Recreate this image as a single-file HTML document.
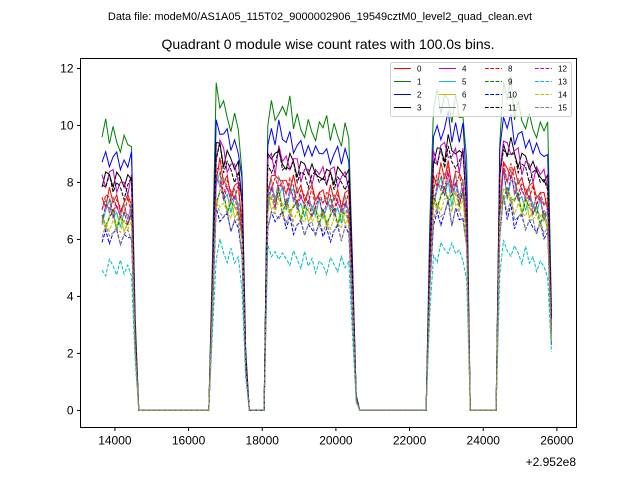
<!DOCTYPE html>
<html><head><meta charset="utf-8"><style>
body{margin:0;background:#fff;}
svg{display:block;font-family:"Liberation Sans","DejaVu Sans",sans-serif;}
</style></head><body>
<svg id="chart" width="640" height="480">
<text x="320" y="20" font-size="11" text-anchor="middle">Data file: modeM0/AS1A05_115T02_9000002906_19549cztM0_level2_quad_clean.evt</text>
<text x="328" y="49" font-size="14" text-anchor="middle">Quadrant 0 module wise count rates with 100.0s bins.</text>
<g id="plot"></g>
<rect x="80.5" y="58.5" width="496" height="369" fill="none" stroke="#000" stroke-width="1"/>
<g id="ticks"></g>
<text x="576" y="466" font-size="12" text-anchor="end">+2.952e8</text>
<g id="legend"></g>
</svg>
<script>
const startTime = 13650;
const binSize = 100;
// common envelope per 100s bin (fraction of module level)
const envelope = [0.88,0.89,0.9,0.89,0.88,0.88,0.87,0.88,0.89,0.3,
0,0,0,0,0,0,0,0,0,0,0,0,0,0,0,0,0,0,0,0,
0.5,1.0,1.02,0.97,0.96,0.95,0.94,0.93,0.8,0.2,
0,0,0,0,0,
0.97,0.98,0.96,1.0,0.97,0.95,0.96,0.95,0.93,0.92,0.93,0.92,0.92,0.91,0.92,0.91,0.9,0.91,0.9,0.9,0.9,0.91,0.9,0.5,0.05,
0,0,0,0,0,0,0,0,0,0,0,0,0,0,0,0,0,0,0,
0.6,0.97,0.98,1.0,0.99,1.02,0.98,1.0,0.97,0.99,0.8,
0,0,0,0,0,0,0,0,
0.9,1.05,1.0,1.02,0.98,0.97,0.95,0.96,0.94,0.93,0.92,0.92,0.9,0.88,0.35];
const channels = ["0","1","2","3","4","5","6","7","8","9","10","11","12","13","14","15"];
const levels = [8.3,10.6,9.8,9.1,9.0,7.7,7.5,8.0,8.1,7.5,6.9,8.8,7.8,5.6,7.3,7.0];
const jitter = [
[0.2,-0.3,0.4,-0.1,0.3,-0.4,0.1,0.3,-0.2,0.0],
[0.3,0.9,-0.2,0.6,0.1,-0.3,0.5,0.0,-0.2,0.4],
[0.1,0.4,-0.3,0.2,0.5,-0.2,0.3,-0.1,0.4,0.0],
[-0.2,0.3,0.1,-0.3,0.4,0.2,-0.1,0.3,0.0,-0.2],
[0.4,-0.2,0.3,0.5,-0.3,0.1,0.2,-0.4,0.3,0.0],
[-0.3,0.2,0.5,-0.1,0.2,-0.4,0.3,0.1,-0.2,0.4],
[0.2,-0.4,0.1,0.3,-0.2,0.4,-0.3,0.0,0.2,-0.1],
[0.0,0.3,-0.3,0.4,0.1,-0.2,0.3,-0.4,0.2,0.1],
[-0.1,0.4,0.2,-0.3,0.3,0.0,-0.2,0.4,-0.3,0.2],
[0.3,-0.2,0.0,0.4,-0.3,0.2,0.1,-0.1,0.3,-0.4],
[-0.2,0.2,-0.4,0.1,0.3,-0.3,0.2,0.0,-0.1,0.3],
[0.2,0.0,0.4,-0.2,0.3,0.1,-0.3,0.2,0.4,-0.1],
[-0.3,0.3,0.1,-0.2,0.4,-0.1,0.2,-0.4,0.1,0.3],
[0.0,-0.3,0.3,0.1,-0.2,0.4,-0.1,0.2,-0.3,0.1],
[0.3,0.1,-0.3,0.2,0.0,-0.2,0.4,-0.1,0.2,-0.3],
[-0.1,0.3,-0.2,0.0,0.3,-0.4,0.1,0.2,-0.3,0.2]];
const colors = ["#ff0000","#008000","#0000ff","#000000","#bf00bf","#00bfbf","#bfbf00","#808080"];
const xTicks = [14000,16000,18000,20000,22000,24000,26000];
const yTicks = [0,2,4,6,8,10,12];

const NS = "http://www.w3.org/2000/svg";
const X0 = 80.5, X1 = 576.5, Y0 = 427.5, Y1 = 58.5;
const xmin = 13066, xmax = 26532, ymin = -0.6, ymax = 12.35;
function xs(t){ return X0 + (t - xmin) / (xmax - xmin) * (X1 - X0); }
function ys(v){ return Y0 - (v - ymin) / (ymax - ymin) * (Y0 - Y1); }

const plot = document.getElementById('plot');
channels.forEach((ch, s) => {
  const pts = envelope.map((e, i) => {
    const v = e * (levels[s] + jitter[s][i % 10]);
    return xs(startTime + i * binSize).toFixed(1) + ',' + ys(v).toFixed(1);
  });
  const pl = document.createElementNS(NS, 'polyline');
  pl.setAttribute('points', pts.join(' '));
  pl.setAttribute('fill', 'none');
  pl.setAttribute('stroke', colors[s % 8]);
  pl.setAttribute('stroke-width', '1');
  if (s >= 8) pl.setAttribute('stroke-dasharray', '3.7,1.6');
  
  
  plot.appendChild(pl);
});

const ticks = document.getElementById('ticks');
xTicks.forEach(t => {
  const x = xs(t);
  const l = document.createElementNS(NS, 'line');
  l.setAttribute('x1', x); l.setAttribute('x2', x);
  l.setAttribute('y1', Y0); l.setAttribute('y2', Y0 + 3.5);
  l.setAttribute('stroke', '#000');
  
  
  ticks.appendChild(l);
  const tx = document.createElementNS(NS, 'text');
  tx.setAttribute('x', x); tx.setAttribute('y', Y0 + 17);
  tx.setAttribute('font-size', '12'); tx.setAttribute('text-anchor', 'middle');
  tx.textContent = t;
  
  
  ticks.appendChild(tx);
});
yTicks.forEach(v => {
  const y = ys(v);
  const l = document.createElementNS(NS, 'line');
  l.setAttribute('x1', X0 - 3.5); l.setAttribute('x2', X0);
  l.setAttribute('y1', y); l.setAttribute('y2', y);
  l.setAttribute('stroke', '#000');
  
  
  ticks.appendChild(l);
  const tx = document.createElementNS(NS, 'text');
  tx.setAttribute('x', X0 - 7); tx.setAttribute('y', y + 4);
  tx.setAttribute('font-size', '12'); tx.setAttribute('text-anchor', 'end');
  tx.textContent = v;
  
  
  ticks.appendChild(tx);
});

const legend = document.getElementById('legend');
const box = document.createElementNS(NS, 'rect');
box.setAttribute('x', 390.5); box.setAttribute('y', 62.5);
box.setAttribute('width', 181); box.setAttribute('height', 54);
box.setAttribute('rx', 2);
box.setAttribute('fill', 'rgba(255,255,255,0.8)');
box.setAttribute('stroke', '#d0d0d0');


legend.appendChild(box);
const colX = [394, 439, 485, 535];
const rowY = [68.5, 81.5, 94.5, 107.5];
channels.forEach((ch, s) => {
  const c = Math.floor(s / 4), r = s % 4;
  const g = document.createElementNS(NS, 'g');
  
  
  const l = document.createElementNS(NS, 'line');
  l.setAttribute('x1', colX[c]); l.setAttribute('x2', colX[c] + 17);
  l.setAttribute('y1', rowY[r]); l.setAttribute('y2', rowY[r]);
  l.setAttribute('stroke', colors[s % 8]);
  if (s >= 8) l.setAttribute('stroke-dasharray', '3.7,1.6');
  g.appendChild(l);
  const tx = document.createElementNS(NS, 'text');
  tx.setAttribute('x', colX[c] + 23); tx.setAttribute('y', rowY[r] + 3);
  tx.setAttribute('font-size', '8');
  tx.textContent = ch;
  g.appendChild(tx);
  legend.appendChild(g);
});
</script>
</body></html>
